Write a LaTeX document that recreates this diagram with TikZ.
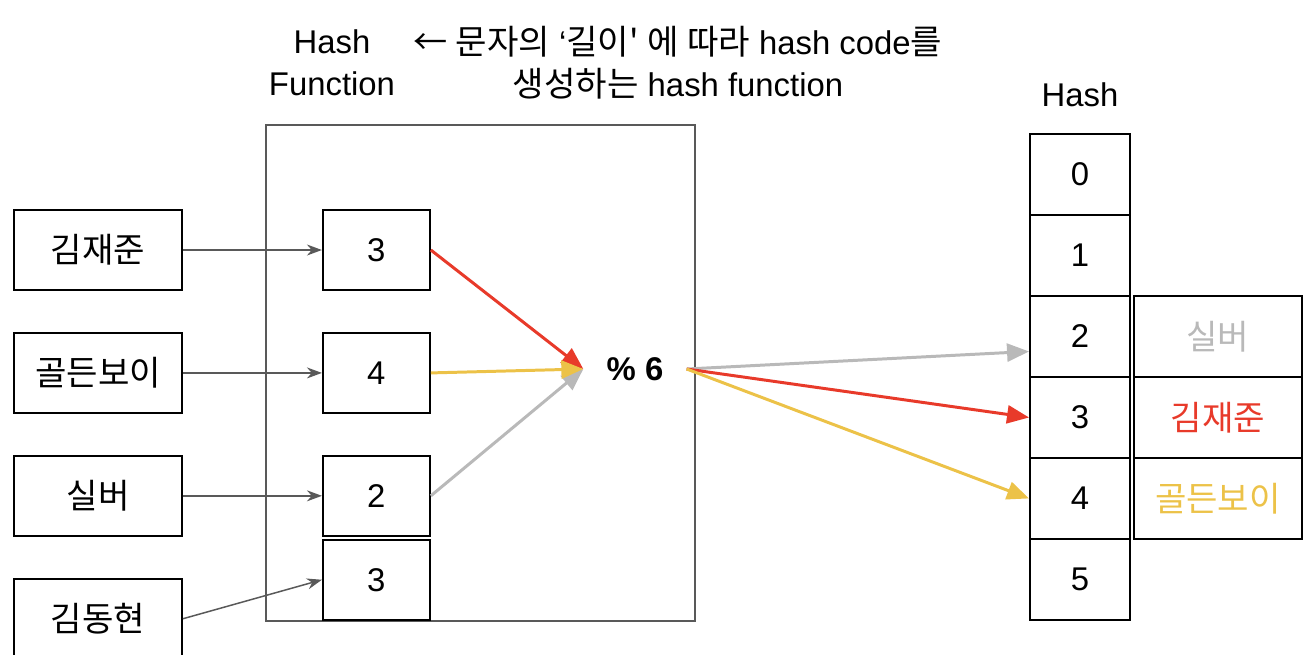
\documentclass[tikz,border=0pt]{standalone}
\usepackage{fontspec}
\setmainfont{Liberation Sans}
\newfontfamily\kr{Noto Sans CJK KR}[Scale=1.04]
\usetikzlibrary{arrows.meta}
\usetikzlibrary{positioning}

\definecolor{hitred}{RGB}{232,58,42}
\definecolor{hityellow}{RGB}{236,194,72}
\definecolor{hitgray}{RGB}{185,185,185}
\definecolor{wiregray}{RGB}{89,89,89}

\begin{document}
\begin{tikzpicture}[x=0.02cm, y=-0.02cm,
    every node/.style={font=\fontsize{18.7}{24}\selectfont},
    keybox/.style={draw, line width=1.1pt, minimum width=3.36cm, minimum height=1.6cm},
    codebox/.style={draw, line width=1.1pt, minimum width=2.14cm, minimum height=1.6cm},
    slot/.style={draw, line width=1.1pt, minimum width=2cm, minimum height=1.62cm},
    wire/.style={draw=wiregray, line width=0.85pt, -{Stealth[length=0.3cm, width=0.22cm]}},
    hit/.style={line width=1.7pt, -{Triangle[length=0.44cm, width=0.36cm]}}
  ]
  \useasboundingbox (0,0) rectangle (1308,654);

  % titles
  \node[align=center] (fntitle) at (332,63) {Hash\\Function};
  \node[align=center] (note) at (678,63)
    {{\kr ←\ 문자의} ‘{\kr 길이'} {\kr 에 따라} hash code{\kr 를}\\{\kr 생성하는} hash function};
  \node (tabtitle) at (1080,95) {Hash};

  % hash function box
  \node[draw=wiregray, line width=1.1pt, minimum width=8.58cm, minimum height=9.92cm] (hashfn) at (480.5,373) {};

  % keys
  \node[keybox] (k1) at (98,250) {\kr 김재준};
  \node[keybox, below=0.82cm of k1] (k2) {\kr 골든보이};
  \node[keybox, below=0.82cm of k2] (k3) {\kr 실버};
  \node[keybox, below=0.82cm of k3] (k4) {\kr 김동현};

  % lengths
  \node[codebox, right=2.78cm of k1] (c1) {3};
  \node[codebox, right=2.78cm of k2] (c2) {4};
  \node[codebox, right=2.78cm of k3] (c3) {2};
  \node[codebox, below=0.04cm of c3] (c4) {3};

  \node[inner sep=0.46cm] (mod) at (635,369) {\textbf{\% 6}};

  % table
  \node[slot] (s0) at (1080,174.5) {0};
  \node[slot, below=-1.1pt of s0] (s1) {1};
  \node[slot, below=-1.1pt of s1] (s2) {2};
  \node[slot, below=-1.1pt of s2] (s3) {3};
  \node[slot, below=-1.1pt of s3] (s4) {4};
  \node[slot, below=-1.1pt of s4] (s5) {5};

  \node[slot, minimum width=3.36cm, right=0.04cm of s2, text=hitgray] (v2) {\kr 실버};
  \node[slot, minimum width=3.36cm, right=0.04cm of s3, text=hitred] (v3) {\kr 김재준};
  \node[slot, minimum width=3.36cm, right=0.04cm of s4, text=hityellow] (v4) {\kr 골든보이};

  \draw[wire] (k1) -- (c1);
  \draw[wire] (k2) -- (c2);
  \draw[wire] (k3) -- (c3);
  \draw[wire] (k4.east) -- (c4.west);

  \draw[hit, hitred] (c1.east) -- (mod.west);
  \draw[hit, hitgray] (c3.east) -- (mod.west);
  \draw[hit, hityellow] (c2.east) -- (mod.west);

  \draw[hit, hitgray] (mod.east) -- ([yshift=-0.3cm]s2.west);
  \draw[hit, hitred] (mod.east) -- (s3.west);
  \draw[hit, hityellow] (mod.east) -- (s4.west);
\end{tikzpicture}
\end{document}
